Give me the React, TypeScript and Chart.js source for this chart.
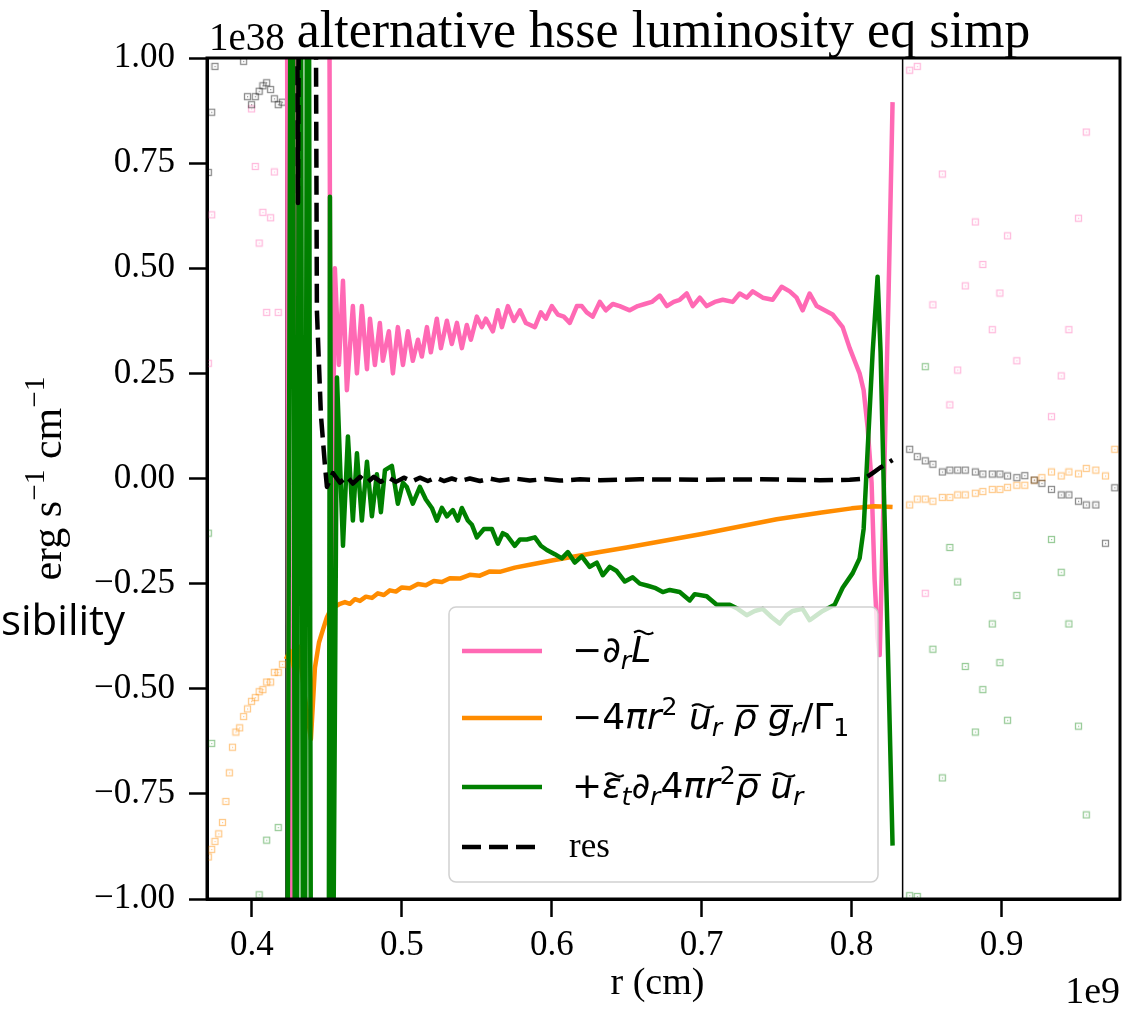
import React, { useEffect, useRef } from "react";
import { Chart, registerables } from "chart.js";

Chart.register(...registerables);

const CANVAS_W = 1141;
const CANVAS_H = 1018;

// ---------- text ----------
const titleText = "alternative hsse luminosity eq simp";
const xLabelText = "r (cm)";
const xOffsetText = "1e9";
const yOffsetText = "1e38";
const sideText = "sibility";

// ---------- axes ----------
const xTicks = [0.4, 0.5, 0.6, 0.7, 0.8, 0.9];
const yTicks = [-1, -0.75, -0.5, -0.25, 0, 0.25, 0.5, 0.75, 1];
const xRange = [0.37, 0.979];
const yRange = [-1, 1];
const regionBounds = [0.4227, 0.834];

// ---------- series (r in 1e9 cm, values in 1e38) ----------
const pinkR = [0.4227, 0.4253, 0.4307, 0.4507, 0.4527, 0.4553, 0.458, 0.4607, 0.4633, 0.4673, 0.47, 0.4733, 0.4767, 0.4787, 0.482, 0.4853, 0.4873, 0.4913, 0.494, 0.4973, 0.5007, 0.504, 0.5073, 0.5107, 0.5133, 0.5167, 0.5193, 0.5233, 0.526, 0.53, 0.5333, 0.5367, 0.54, 0.5433, 0.546, 0.55, 0.5533, 0.556, 0.5607, 0.564, 0.5667, 0.5707, 0.5747, 0.5787, 0.5827, 0.5887, 0.5927, 0.596, 0.6, 0.604, 0.608, 0.612, 0.6167, 0.62, 0.6233, 0.6273, 0.632, 0.636, 0.6407, 0.6453, 0.652, 0.6573, 0.662, 0.6667, 0.672, 0.6767, 0.6813, 0.6853, 0.69, 0.694, 0.6987, 0.7033, 0.7087, 0.714, 0.7207, 0.7253, 0.73, 0.734, 0.7407, 0.7473, 0.7533, 0.7587, 0.7633, 0.7673, 0.772, 0.7767, 0.782, 0.7873, 0.7907, 0.794, 0.7987, 0.802, 0.8053, 0.808, 0.8107, 0.8133, 0.8153, 0.8173, 0.8187, 0.8213, 0.8247, 0.8273];
const pinkV = [2.5, -2.5, 2.5, 2.5, -0.4, 0.5, 0.27, 0.47, 0.21, 0.41, 0.25, 0.41, 0.26, 0.38, 0.27, 0.37, 0.28, 0.35, 0.25, 0.36, 0.27, 0.35, 0.28, 0.33, 0.29, 0.36, 0.3, 0.38, 0.31, 0.375, 0.32, 0.37, 0.31, 0.365, 0.33, 0.385, 0.36, 0.38, 0.35, 0.4, 0.36, 0.41, 0.375, 0.4, 0.37, 0.36, 0.395, 0.38, 0.41, 0.39, 0.385, 0.37, 0.41, 0.41, 0.395, 0.385, 0.42, 0.4, 0.415, 0.41, 0.4, 0.41, 0.415, 0.42, 0.435, 0.41, 0.42, 0.425, 0.44, 0.41, 0.43, 0.41, 0.42, 0.425, 0.42, 0.44, 0.43, 0.445, 0.43, 0.425, 0.456, 0.445, 0.43, 0.4, 0.44, 0.41, 0.4, 0.39, 0.375, 0.36, 0.31, 0.28, 0.25, 0.21, 0.12, -0.01, -0.24, -0.38, -0.42, -0.05, 0.45, 0.895];

const orangeR = [0.4227, 0.4253, 0.428, 0.4313, 0.4353, 0.4393, 0.442, 0.4447, 0.4473, 0.45, 0.4527, 0.4553, 0.4587, 0.462, 0.4653, 0.4687, 0.472, 0.476, 0.48, 0.484, 0.488, 0.492, 0.496, 0.5, 0.5053, 0.5107, 0.516, 0.5213, 0.5267, 0.532, 0.5387, 0.5453, 0.552, 0.5587, 0.5653, 0.5753, 0.5853, 0.6, 0.632, 0.65, 0.7, 0.75, 0.78, 0.8, 0.8153, 0.8273];
const orangeV = [-0.43, -0.41, -0.45, -0.4, -0.52, -0.62, -0.45, -0.39, -0.36, -0.33, -0.31, -0.305, -0.298, -0.294, -0.298, -0.287, -0.291, -0.281, -0.284, -0.273, -0.277, -0.266, -0.269, -0.259, -0.261, -0.251, -0.254, -0.244, -0.246, -0.237, -0.238, -0.229, -0.231, -0.221, -0.222, -0.212, -0.205, -0.195, -0.175, -0.164, -0.132, -0.097, -0.081, -0.071, -0.066, -0.068];

const greenR = [0.4227, 0.4267, 0.4293, 0.432, 0.4347, 0.4373, 0.44, 0.4507, 0.452, 0.454, 0.4567, 0.4607, 0.464, 0.4673, 0.47, 0.4733, 0.4767, 0.48, 0.4833, 0.486, 0.4887, 0.4933, 0.4973, 0.5007, 0.5033, 0.5073, 0.512, 0.516, 0.52, 0.5233, 0.5267, 0.53, 0.534, 0.5373, 0.54, 0.544, 0.5467, 0.55, 0.5547, 0.56, 0.564, 0.5673, 0.57, 0.5753, 0.5787, 0.5833, 0.5887, 0.5927, 0.5967, 0.602, 0.6067, 0.6107, 0.6153, 0.62, 0.6253, 0.63, 0.634, 0.6387, 0.6433, 0.6487, 0.654, 0.6587, 0.664, 0.6687, 0.674, 0.6787, 0.6853, 0.692, 0.6953, 0.7033, 0.71, 0.7187, 0.724, 0.73, 0.7353, 0.7407, 0.7467, 0.752, 0.7567, 0.7607, 0.7673, 0.772, 0.7767, 0.7807, 0.7887, 0.794, 0.8007, 0.8053, 0.808, 0.8107, 0.814, 0.8173, 0.8193, 0.8213, 0.824, 0.8273];
const greenV = [-2.5, 2.5, -2.5, 2.5, -2.5, 2.5, -2.5, -2.5, 0.67, -1.3, 0.24, -0.16, 0.1, -0.1, 0.06, -0.1, 0.04, -0.09, 0.01, -0.08, 0.02, 0.03, -0.06, -0.01, -0.02, -0.06, -0.02, -0.05, -0.07, -0.1, -0.07, -0.09, -0.075, -0.1, -0.07, -0.1, -0.11, -0.14, -0.12, -0.12, -0.155, -0.13, -0.135, -0.16, -0.145, -0.145, -0.14, -0.16, -0.17, -0.18, -0.19, -0.175, -0.2, -0.185, -0.21, -0.2, -0.23, -0.21, -0.22, -0.245, -0.235, -0.25, -0.255, -0.26, -0.27, -0.265, -0.27, -0.29, -0.275, -0.28, -0.3, -0.3, -0.31, -0.325, -0.315, -0.31, -0.33, -0.345, -0.325, -0.315, -0.31, -0.337, -0.325, -0.315, -0.3, -0.26, -0.225, -0.19, -0.12, 0.07, 0.3, 0.48, 0.3, 0.0, -0.38, -0.873];

const resR = [0.4227, 0.4287, 0.4307, 0.4327, 0.4413, 0.4433, 0.446, 0.4487, 0.45, 0.454, 0.4587, 0.4633, 0.4673, 0.472, 0.4767, 0.4813, 0.486, 0.4907, 0.496, 0.5013, 0.5067, 0.512, 0.5173, 0.5227, 0.528, 0.5333, 0.5387, 0.5453, 0.552, 0.5587, 0.5653, 0.5753, 0.5853, 0.5953, 0.6053, 0.6187, 0.632, 0.6587, 0.6987, 0.7387, 0.7787, 0.7987, 0.8087, 0.814, 0.8187, 0.8273];
const resV = [2.5, 2.5, 0.655, 2.5, 2.5, 0.4, 0.15, 0.03, -0.02, 0.013, -0.01, 0.005, -0.012, 0.004, -0.01, 0.004, -0.008, 0.003, -0.008, 0.002, -0.007, 0.002, -0.006, 0.002, -0.006, 0.0, -0.006, 0.0, -0.006, 0.0, -0.005, 0.0, -0.005, -0.001, -0.005, -0.002, -0.004, -0.002, -0.003, -0.002, -0.004, -0.003, 0.0, 0.013, 0.025, 0.044];

// faded samples outside the region
const leftR = [0.3709, 0.3731, 0.3753, 0.3778, 0.3803, 0.3826, 0.3849, 0.387, 0.3893, 0.3918, 0.3944, 0.397, 0.3997, 0.4022, 0.4048, 0.4073, 0.4098, 0.4124, 0.4149, 0.4175, 0.4203];
const leftPink = [0.274, 0.627, 1.3, 1.3, 1.3, 1.3, 1.3, 1.3, 1.3, 1.3, 1.3, 1.3, 0.879, 0.742, 0.56, 0.633, 0.395, 0.62, 0.729, 0.395, 1.2];
const leftOrange = [-0.9, -0.882, -0.863, -0.845, -0.818, -0.768, -0.7, -0.639, -0.603, -0.593, -0.566, -0.548, -0.53, -0.521, -0.507, -0.502, -0.484, -0.484, -0.461, -0.461, -0.442];
const leftGreen = [-0.13, -0.63, -1.3, -1.3, -1.3, -1.3, -1.3, -1.3, -1.3, -1.3, -1.3, -1.3, -1.3, -1.3, -0.99, -1.3, -0.86, -1.3, -1.3, -0.83, -1.3];
const leftRes = [0.728, 0.871, 0.98, 1.2, 1.3, 1.3, 1.3, 1.3, 1.2, 1.1, 0.992, 0.908, 0.889, 0.908, 0.921, 0.934, 0.941, 0.925, 0.903, 0.889, 0.895];

const rightR = [0.8387, 0.8438, 0.8491, 0.8542, 0.8605, 0.8655, 0.8707, 0.8758, 0.8825, 0.8875, 0.8938, 0.8989, 0.904, 0.9102, 0.9155, 0.9218, 0.9269, 0.9333, 0.9398, 0.9449, 0.9513, 0.9565, 0.9629, 0.9693, 0.9755];
const rightPink = [0.971, 0.98, -0.273, 0.413, 0.724, 0.175, 0.258, 0.458, 0.61, 0.509, 0.354, 0.441, 0.577, 0.28, 1.3, 1.3, 1.3, 0.147, 0.244, 0.354, 0.619, 0.824, 1.3, 1.3, 1.3];
const rightOrange = [-0.063, -0.049, -0.049, -0.054, -0.045, -0.045, -0.039, -0.039, -0.035, -0.031, -0.026, -0.026, -0.021, -0.016, -0.016, -0.004, 0.002, 0.0155, 0.006, 0.0155, 0.011, 0.024, 0.02, 0.006, 0.0695];
const rightGreen = [-0.992, -0.994, 0.266, -0.406, -0.712, -0.164, -0.246, -0.447, -0.603, -0.502, -0.346, -0.438, -0.575, -0.278, -1.3, -1.3, -1.3, -0.145, -0.223, -0.346, -0.589, -0.8, -1.3, -1.3, -1.3];
const rightRes = [0.0695, 0.052, 0.042, 0.034, 0.0155, 0.02, 0.02, 0.02, 0.0155, 0.0107, 0.0107, 0.0107, 0.006, 0.002, 0.0067, -0.0036, -0.0115, -0.026, -0.039, -0.039, -0.054, -0.063, -0.063, -0.154, -0.022];

// ---------- legend labels (math runs) ----------
type Run = { t: string; it?: boolean; sub?: boolean; sup?: boolean; acc?: "tilde" | "bar"; tall?: boolean };
const legendPink: Run[] = [{ t: "\u2212\u2202", it: true }, { t: "r", it: true, sub: true }, { t: "L", it: true, acc: "tilde", tall: true }];
const legendOrange: Run[] = [
  { t: "\u22124" }, { t: "\u03c0r", it: true }, { t: "2", sup: true }, { t: " " },
  { t: "u", it: true, acc: "tilde" }, { t: "r", it: true, sub: true }, { t: " " },
  { t: "\u03c1", it: true, acc: "bar" }, { t: " " }, { t: "g", it: true, acc: "bar" }, { t: "r", it: true, sub: true },
  { t: "/\u0393" }, { t: "1", sub: true },
];
const legendGreen: Run[] = [
  { t: "+" }, { t: "\u03b5", it: true, acc: "tilde" }, { t: "t", it: true, sub: true }, { t: "\u2202", it: true },
  { t: "r", it: true, sub: true }, { t: "4" }, { t: "\u03c0r", it: true }, { t: "2", sup: true },
  { t: "\u03c1", it: true, acc: "bar" }, { t: " " }, { t: "u", it: true, acc: "tilde" }, { t: "r", it: true, sub: true },
];
const legendRes = "res";
const yLabelRuns: Run[] = [{ t: "erg s" }, { t: "\u22121", sup: true }, { t: " cm" }, { t: "\u22121", sup: true }];

const PINK = "#ff69b4";
const ORANGE = "#ff8c00";
const GREEN = "#008000";
const BLACK = "#000000";
const DASH = [19, 8];

function drawRuns(ctx: CanvasRenderingContext2D, runs: Run[], x: number, y: number, size: number, family: string, measureOnly = false): number {
  let cx = x;
  for (const r of runs) {
    const s = r.sub || r.sup ? size * 0.7 : size;
    ctx.font = `${r.it ? "italic " : ""}${s}px ${family}`;
    const dy = r.sub ? size * 0.2 : r.sup ? -size * 0.4 : 0;
    const w = ctx.measureText(r.t).width;
    if (!measureOnly) {
      ctx.fillText(r.t, cx, y + dy);
      if (r.acc) {
        const top = y - size * (r.tall ? 0.82 : 0.64);
        const x0 = cx + size * 0.08;
        const x1 = cx + w + size * 0.06;
        ctx.save();
        ctx.strokeStyle = ctx.fillStyle as string;
        ctx.lineWidth = size * 0.06;
        ctx.beginPath();
        if (r.acc === "bar") {
          ctx.moveTo(x0, top);
          ctx.lineTo(x1, top);
        } else {
          const amp = size * 0.045;
          for (let k = 0; k <= 20; k++) {
            const t = k / 20;
            const px = x0 + (x1 - x0) * t;
            const py = top - amp * Math.sin(2 * Math.PI * t);
            if (k === 0) ctx.moveTo(px, py);
            else ctx.lineTo(px, py);
          }
        }
        ctx.stroke();
        ctx.restore();
      }
    }
    cx += w;
  }
  return cx - x;
}

function pts(xs: number[], ys: number[]) {
  const n = Math.min(xs.length, ys.length);
  const out: { x: number; y: number }[] = [];
  for (let i = 0; i < n; i++) out.push({ x: xs[i], y: ys[i] });
  return out;
}

function makeMarker(color: string): HTMLCanvasElement {
  const c = document.createElement("canvas");
  c.width = 9;
  c.height = 9;
  const g = c.getContext("2d")!;
  g.strokeStyle = color;
  g.lineWidth = 1.3;
  g.strokeRect(1.5, 1.5, 6, 6);
  g.fillStyle = color;
  g.fillRect(4, 4, 1.2, 1.2);
  return c;
}

export default function App() {
  const ref = useRef<HTMLCanvasElement>(null);

  useEffect(() => {
    const canvas = ref.current!;
    const lineDs = (label: string, xs: number[], ys: number[], color: string, order: number, dash: number[] = []) => ({
      label,
      data: pts(xs, ys),
      borderColor: color,
      backgroundColor: color,
      borderWidth: 4.5,
      borderDash: dash,
      borderJoinStyle: "round" as const,
      borderCapStyle: "butt" as const,
      pointRadius: 0,
      tension: 0,
      fill: false,
      clip: 0,
      order,
    });
    const markerDs = (label: string, xs: number[], ys: number[], color: string, order: number) => ({
      label,
      data: pts(xs, ys),
      showLine: false,
      pointStyle: makeMarker(color),
      pointRadius: 4,
      borderColor: color,
      backgroundColor: "rgba(0,0,0,0)",
      order,
    });

    const legendItems = [
      { color: PINK, dash: [] as number[], runs: legendPink as Run[] | null, text: "" },
      { color: ORANGE, dash: [] as number[], runs: legendOrange, text: "" },
      { color: GREEN, dash: [] as number[], runs: legendGreen, text: "" },
      { color: BLACK, dash: DASH, runs: null, text: legendRes },
    ];

    const overlay = {
      id: "overlay",
      beforeDatasetsDraw(chart: any) {
        const { ctx, chartArea: a, scales } = chart;
        ctx.save();
        ctx.strokeStyle = "#000";
        ctx.lineWidth = 1.5;
        for (const r of regionBounds) {
          const px = scales.x.getPixelForValue(r);
          ctx.beginPath();
          ctx.moveTo(px, a.top);
          ctx.lineTo(px, a.bottom);
          ctx.stroke();
        }
        ctx.restore();
      },
      afterDatasetsDraw(chart: any) {
        const { ctx } = chart;
        ctx.save();
        const bx = 449, by = 607, bw = 429, bh = 275, rad = 7;
        ctx.beginPath();
        ctx.moveTo(bx + rad, by);
        ctx.arcTo(bx + bw, by, bx + bw, by + bh, rad);
        ctx.arcTo(bx + bw, by + bh, bx, by + bh, rad);
        ctx.arcTo(bx, by + bh, bx, by, rad);
        ctx.arcTo(bx, by, bx + bw, by, rad);
        ctx.closePath();
        ctx.fillStyle = "rgba(255,255,255,0.8)";
        ctx.fill();
        ctx.strokeStyle = "rgba(204,204,204,0.9)";
        ctx.lineWidth = 1.5;
        ctx.stroke();
        const rows = [651, 718, 787, 847];
        legendItems.forEach((it, i) => {
          const y = rows[i];
          ctx.beginPath();
          ctx.setLineDash(it.dash);
          ctx.strokeStyle = it.color;
          ctx.lineWidth = 4.5;
          ctx.lineCap = "butt";
          ctx.moveTo(462, y);
          ctx.lineTo(542, y);
          ctx.stroke();
          ctx.setLineDash([]);
          ctx.fillStyle = "#000";
          ctx.textBaseline = "alphabetic";
          ctx.textAlign = "left";
          if (it.runs) {
            drawRuns(ctx, it.runs, 572, y + 11, 36, '"DejaVu Sans"');
          } else {
            ctx.font = '35px "Liberation Serif"';
            ctx.fillText(it.text, 569, y + 10);
          }
        });
        ctx.restore();
      },
      afterDraw(chart: any) {
        const { ctx, chartArea: a } = chart;
        ctx.save();
        ctx.strokeStyle = "#000";
        ctx.lineWidth = 3;
        ctx.strokeRect(a.left, a.top, a.right - a.left, a.bottom - a.top);
        ctx.fillStyle = "#000";
        ctx.textBaseline = "alphabetic";
        const cx = (a.left + a.right) / 2;
        ctx.textAlign = "center";
        ctx.font = '52px "Liberation Serif"';
        ctx.fillText(titleText, cx, 47);
        ctx.font = '38px "Liberation Serif"';
        ctx.fillText(xLabelText, cx - 6, 994);
        ctx.textAlign = "left";
        ctx.font = '39px "Liberation Serif"';
        ctx.fillText(yOffsetText, a.left + 2, 50);
        ctx.textAlign = "right";
        ctx.font = '38px "Liberation Serif"';
        ctx.fillText(xOffsetText, a.right, 1003);
        ctx.textAlign = "left";
        const w = drawRuns(ctx, yLabelRuns, 0, 0, 42, '"Liberation Serif"', true);
        ctx.save();
        ctx.translate(61, (a.top + a.bottom) / 2);
        ctx.rotate(-Math.PI / 2);
        drawRuns(ctx, yLabelRuns, -w / 2, 0, 42, '"Liberation Serif"');
        ctx.restore();
        ctx.font = '42px "Open Sans"';
        ctx.fillText(sideText, 1, 635);
        ctx.restore();
      },
    };

    const chart = new Chart(canvas, {
      type: "line",
      data: {
        datasets: [
          lineDs("res", resR, resV, BLACK, 0, DASH),
          lineDs("green", greenR, greenV, GREEN, 1),
          lineDs("orange", orangeR, orangeV, ORANGE, 2),
          lineDs("pink", pinkR, pinkV, PINK, 3),
          markerDs("res left", leftR, leftRes, "rgba(0,0,0,0.45)", 10),
          markerDs("pink left", leftR, leftPink, "rgba(255,105,180,0.45)", 11),
          markerDs("orange left", leftR, leftOrange, "rgba(255,140,0,0.45)", 12),
          markerDs("green left", leftR, leftGreen, "rgba(0,128,0,0.4)", 13),
          markerDs("res right", rightR, rightRes, "rgba(0,0,0,0.45)", 10),
          markerDs("pink right", rightR, rightPink, "rgba(255,105,180,0.45)", 11),
          markerDs("orange right", rightR, rightOrange, "rgba(255,140,0,0.45)", 12),
          markerDs("green right", rightR, rightGreen, "rgba(0,128,0,0.4)", 13),
        ] as any,
      },
      options: {
        responsive: false,
        animation: false,
        events: [],
        layout: { padding: { left: 0, right: 21, top: 58, bottom: 0 } },
        plugins: { legend: { display: false }, tooltip: { enabled: false }, title: { display: false } },
        scales: {
          x: {
            type: "linear",
            min: xRange[0],
            max: xRange[1],
            afterBuildTicks: (s: any) => {
              s.ticks = xTicks.map((v) => ({ value: v }));
            },
            afterFit: (s: any) => {
              s.height = 119;
            },
            ticks: {
              font: { family: "Liberation Serif", size: 35 },
              color: "#000",
              padding: 8,
              maxRotation: 0,
              autoSkip: false,
              callback: (v: any) => Number(v).toFixed(1),
            },
            grid: { display: true, drawOnChartArea: false, drawTicks: true, tickLength: 18, tickWidth: 2.5, tickColor: "#000" },
            border: { display: true, color: "#000", width: 3 },
          },
          y: {
            type: "linear",
            min: yRange[0],
            max: yRange[1],
            afterBuildTicks: (s: any) => {
              s.ticks = yTicks.map((v) => ({ value: v }));
            },
            afterFit: (s: any) => {
              s.width = 207;
            },
            ticks: {
              font: { family: "Liberation Serif", size: 35 },
              color: "#000",
              padding: 14,
              autoSkip: false,
              callback: (v: any) => {
                const n = Number(v);
                const s = Math.abs(n).toFixed(2);
                return n < 0 ? "\u2212" + s : s;
              },
            },
            grid: { display: true, drawOnChartArea: false, drawTicks: true, tickLength: 18, tickWidth: 2.5, tickColor: "#000" },
            border: { display: true, color: "#000", width: 3 },
          },
        },
      } as any,
      plugins: [overlay],
    });
    return () => chart.destroy();
  }, []);

  return (
    <div style={{ position: "absolute", left: 0, top: 0, width: CANVAS_W, height: CANVAS_H, background: "#fff" }}>
      <canvas ref={ref} width={CANVAS_W} height={CANVAS_H} style={{ display: "block", width: CANVAS_W, height: CANVAS_H }} />
    </div>
  );
}
